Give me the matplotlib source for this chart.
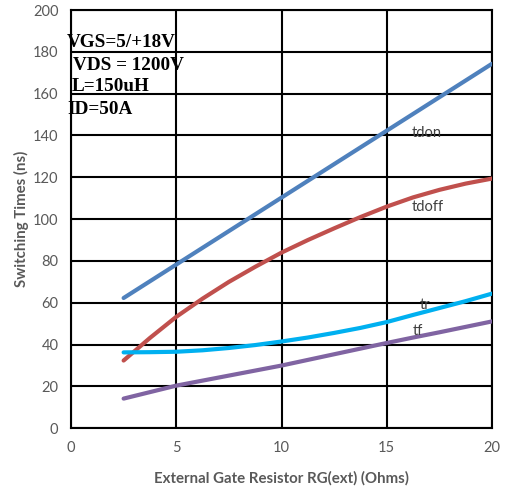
import matplotlib
matplotlib.use("Agg")
import matplotlib.pyplot as plt

rg = [2.5, 3.75, 5, 6.25, 7.5, 8.75, 10, 11.25, 12.5, 13.75, 15, 16.25, 17.5, 18.75, 20]
tdon = [62.3, 70.3, 78.3, 86.3, 94.3, 102.3, 110.3, 118.3, 126.3, 134.3, 142.3, 150.3, 158.3, 166.3, 174.3]
tdoff = [32.4, 43.2, 53.3, 62.0, 70.0, 77.2, 84.0, 90.0, 95.6, 101.0, 106.0, 110.4, 114.0, 117.0, 119.4]
tr = [36.3, 36.4, 36.6, 37.3, 38.4, 39.8, 41.5, 43.4, 45.6, 48.0, 50.8, 54.2, 57.5, 60.8, 64.4]
tf = [14.2, 17.3, 20.4, 22.8, 25.2, 27.6, 30.0, 32.7, 35.4, 38.1, 40.8, 43.4, 45.9, 48.5, 51.1]

series = [("tdon", tdon, "#4F81BD"), ("tdoff", tdoff, "#C0504D"),
          ("tr", tr, "#00B0F0"), ("tf", tf, "#8064A2")]
label_pos = {"tdon": (16.2, 141), "tdoff": (16.2, 105.8),
             "tr": (16.55, 59.1), "tf": (16.25, 46.7)}
conditions = [("VGS=5/+18V", -0.19, 184.3), ("VDS = 1200V", 0.1, 173.3),
              ("L=150uH", 0.05, 163.6), ("ID=50A", -0.19, 152.2)]
xticks = [0, 5, 10, 15, 20]
yticks = list(range(0, 201, 20))

fig = plt.figure(figsize=(5.05, 4.9), dpi=100)
ax = fig.add_axes([71/505, 1-428.3/490, (492-71)/505, (428.3-10)/490])
ax.set_xlim(0, 20)
ax.set_ylim(0, 200)
ax.set_xticks(xticks)
ax.set_yticks(yticks)
ax.grid(True, color="black", linewidth=1.5)
ax.set_axisbelow(True)
for s in ax.spines.values():
    s.set_color("black")
    s.set_linewidth(1.5)
ax.tick_params(length=0, labelsize=10.5, labelcolor="#595959", pad=9)
for lab in ax.get_xticklabels() + ax.get_yticklabels():
    lab.set_family("Lato")

for name, vals, col in series:
    ax.plot(rg, vals, color=col, linewidth=3, solid_capstyle="round",
            solid_joinstyle="round", zorder=3)
    x, y = label_pos[name]
    ax.text(x, y, name, fontsize=10.5, color="#404040", family="Lato",
            va="center", ha="left", zorder=4)

for txt, x, y in conditions:
    ax.text(x, y, txt, fontsize=13.8, fontweight="bold", family="Liberation Serif",
            va="center", ha="left", color="black", clip_on=False, zorder=5)

ax.set_xlabel("External Gate Resistor RG(ext) (Ohms)", fontsize=10.8,
              fontweight="bold", color="#595959", family="Lato", labelpad=12)
ax.set_ylabel("Switching Times (ns)", fontsize=10.8, fontweight="bold",
              color="#595959", family="Lato", labelpad=3)

fig.savefig("out.png", dpi=100)
